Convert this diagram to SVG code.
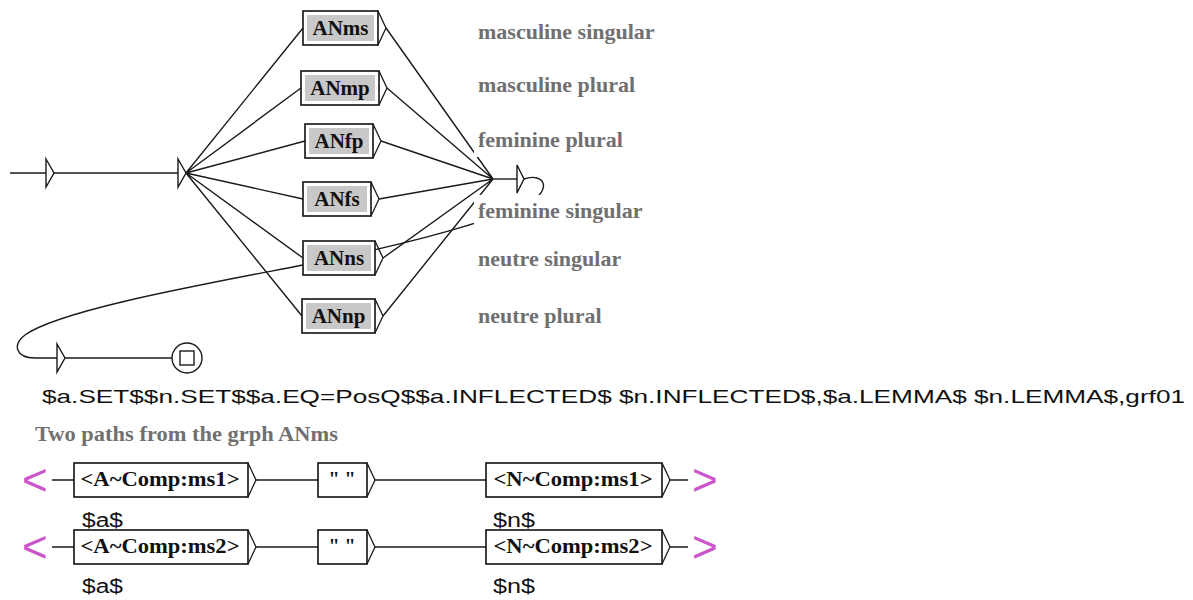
<svg xmlns="http://www.w3.org/2000/svg" width="1193" height="600" viewBox="0 0 1193 600">
<style>
.ln{fill:none;stroke:#1a1a1a;stroke-width:1.4}
.tri{fill:#fff;stroke:#1a1a1a;stroke-width:1.4;stroke-linejoin:miter}
.arr{fill:none;stroke:#1a1a1a;stroke-width:1.3}
.box{fill:#fff;stroke:#111;stroke-width:1.6}
.inner{fill:#c8c8c8}
.lbl{font-family:"Liberation Serif",serif;font-weight:bold;font-size:21px;fill:#111;text-anchor:middle}
.cmt{font-family:"Liberation Serif",serif;font-weight:bold;font-size:22px;fill:#707070}
.bg{fill:#fff}
.seq{font-family:"Liberation Serif",serif;font-weight:bold;font-size:20px;fill:#111;text-anchor:middle}
.out{font-family:"Liberation Sans",sans-serif;font-size:20px;fill:#111}
.mag{font-family:"Liberation Sans",sans-serif;font-size:44px;fill:#cc55cc}
.big{font-family:"Liberation Sans",sans-serif;font-size:19px;fill:#111}
</style>
<rect width="1193" height="600" fill="#fff"/>
<g id="connectors">
<path class="ln" d="M10,173 H46"/>
<path class="ln" d="M54,173 H178"/>
<path class="ln" d="M186,173 L303,28 M186,173 L301,88 M186,173 L305,141 M186,173 L303,199 M186,173 L303,258 M186,173 L302,316"/>
<path class="ln" d="M386,28 L493,179 M387,88 L493,179 M381,141 L493,179 M379,199 L493,179 M383,258 L493,179 M383,316 L493,179"/>
<path class="ln" d="M493,179 H517"/>
<path class="ln" d="M524,179 C545,172 552,190 530,202 C500,218 420,242 303,265 C200,285 60,310 25,335 C12,345 16,358 35,358 L57,358"/>
<path class="ln" d="M65,358 H172"/>
<path class="ln" d="M52,480 H74 M256,480 H318 M375,480 H486 M670,480 H688"/>
<path class="ln" d="M52,547 H74 M256,547 H318 M375,547 H486 M670,547 H688"/>
</g>
<g id="init"><polygon class="tri" points="46,159 54,173 46,187"/></g>
<g id="split"><polygon class="tri" points="178,159 186,173 178,187"/></g>
<g id="join"><polygon class="tri" points="517,165 524,179 517,193"/></g>
<g id="tail"><polygon class="tri" points="57,344 65,358 57,372"/></g>
<g id="final"><circle cx="187" cy="358" r="15" fill="#fff" stroke="#1a1a1a" stroke-width="1.4"/><rect x="180" y="351" width="14" height="14" fill="none" stroke="#1a1a1a" stroke-width="1.4"/></g>
<g id="c-ms"><rect class="bg" x="474" y="16" width="190" height="33"/><text class="cmt" x="478" y="39">masculine singular</text></g>
<g id="c-mp"><rect class="bg" x="474" y="69" width="168" height="33"/><text class="cmt" x="478" y="92">masculine plural</text></g>
<g id="c-fp"><rect class="bg" x="474" y="125" width="154" height="32"/><text class="cmt" x="478" y="147">feminine plural</text></g>
<g id="c-fs"><rect class="bg" x="474" y="195" width="177" height="33"/><text class="cmt" x="478" y="218">feminine singular</text></g>
<g id="c-ns"><rect class="bg" x="474" y="243" width="155" height="33"/><text class="cmt" x="478" y="266">neutre singular</text></g>
<g id="c-np"><rect class="bg" x="474" y="300" width="135" height="33"/><text class="cmt" x="478" y="323">neutre plural</text></g>
<g id="ANms"><rect class="box" x="303" y="11" width="75" height="34"/><rect class="inner" x="307" y="15" width="67" height="26"/><polyline class="arr" points="378,11 386,28 378,45"/><text class="lbl" x="340.5" y="35">ANms</text></g>
<g id="ANmp"><rect class="box" x="301" y="71" width="78" height="34"/><rect class="inner" x="305" y="75" width="70" height="26"/><polyline class="arr" points="379,71 387,88 379,105"/><text class="lbl" x="340" y="95">ANmp</text></g>
<g id="ANfp"><rect class="box" x="305" y="124" width="68" height="34"/><rect class="inner" x="309" y="128" width="60" height="26"/><polyline class="arr" points="373,124 381,141 373,158"/><text class="lbl" x="339" y="148">ANfp</text></g>
<g id="ANfs"><rect class="box" x="303" y="182" width="68" height="34"/><rect class="inner" x="307" y="186" width="60" height="26"/><polyline class="arr" points="371,182 379,199 371,216"/><text class="lbl" x="337" y="206">ANfs</text></g>
<g id="ANns"><rect class="box" x="303" y="241" width="72" height="34"/><rect class="inner" x="307" y="245" width="64" height="26"/><polyline class="arr" points="375,241 383,258 375,275"/><text class="lbl" x="339" y="265">ANns</text></g>
<g id="ANnp"><rect class="box" x="302" y="299" width="73" height="34"/><rect class="inner" x="306" y="303" width="65" height="26"/><polyline class="arr" points="375,299 383,316 375,333"/><text class="lbl" x="338.5" y="323">ANnp</text></g>
<g id="output-line"><text class="big" x="42" y="403" textLength="1143" lengthAdjust="spacingAndGlyphs">$a.SET$$n.SET$$a.EQ=PosQ$$a.INFLECTED$ $n.INFLECTED$,$a.LEMMA$ $n.LEMMA$,grf01</text></g>
<g id="caption"><text class="cmt" x="35" y="441" font-size="21" textLength="303" lengthAdjust="spacingAndGlyphs">Two paths from the grph ANms</text></g>
<g id="p1-start"><text class="mag" x="22" y="495">&lt;</text></g>
<g id="p1-A"><rect class="box" x="74" y="463" width="174" height="34"/><polyline class="arr" points="248,463 256,480 248,497"/><text class="seq" x="160" y="486" textLength="159" lengthAdjust="spacingAndGlyphs">&lt;A~Comp:ms1&gt;</text><text class="out" x="82" y="527" textLength="41" lengthAdjust="spacingAndGlyphs">$a$</text></g>
<g id="p1-space"><rect class="box" x="318" y="463" width="49" height="34"/><polyline class="arr" points="367,463 375,480 367,497"/><text class="seq" x="342" y="486">" "</text></g>
<g id="p1-N"><rect class="box" x="486" y="463" width="176" height="34"/><polyline class="arr" points="662,463 670,480 662,497"/><text class="seq" x="573" y="486" textLength="159" lengthAdjust="spacingAndGlyphs">&lt;N~Comp:ms1&gt;</text><text class="out" x="493" y="527" textLength="42" lengthAdjust="spacingAndGlyphs">$n$</text></g>
<g id="p1-end"><text class="mag" x="692" y="495">&gt;</text></g>
<g id="p2-start"><text class="mag" x="22" y="562">&lt;</text></g>
<g id="p2-A"><rect class="box" x="74" y="530" width="174" height="34"/><polyline class="arr" points="248,530 256,547 248,564"/><text class="seq" x="160" y="553" textLength="159" lengthAdjust="spacingAndGlyphs">&lt;A~Comp:ms2&gt;</text><text class="out" x="82" y="593" textLength="41" lengthAdjust="spacingAndGlyphs">$a$</text></g>
<g id="p2-space"><rect class="box" x="318" y="530" width="49" height="34"/><polyline class="arr" points="367,530 375,547 367,564"/><text class="seq" x="342" y="553">" "</text></g>
<g id="p2-N"><rect class="box" x="486" y="530" width="176" height="34"/><polyline class="arr" points="662,530 670,547 662,564"/><text class="seq" x="573" y="553" textLength="159" lengthAdjust="spacingAndGlyphs">&lt;N~Comp:ms2&gt;</text><text class="out" x="493" y="593" textLength="42" lengthAdjust="spacingAndGlyphs">$n$</text></g>
<g id="p2-end"><text class="mag" x="692" y="562">&gt;</text></g>
</svg>
